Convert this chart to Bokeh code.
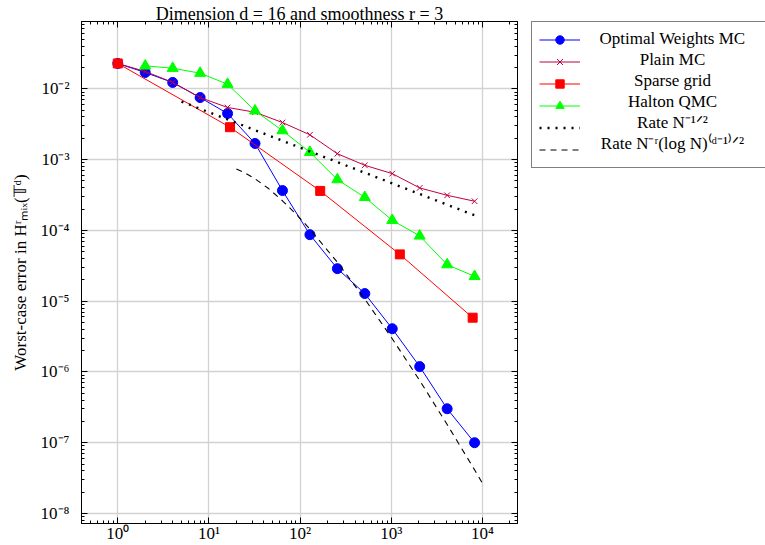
from bokeh.plotting import figure
from bokeh.layouts import row
from bokeh.core.properties import value
from bokeh.models import FixedTicker, CustomJSTickFormatter, LogAxis, Legend, LegendItem, Range1d
from bokeh.embed import file_html
from bokeh.resources import INLINE

# ---------------- data ----------------
n_pow2 = [1, 2, 4, 8, 16, 32, 64, 128, 256, 512, 1024, 2048, 4096, 8192]
err_optimal = [0.0228, 0.0170, 0.0123, 0.00753, 0.00448, 0.00169, 3.65e-4, 8.7e-5,
               2.88e-5, 1.28e-5, 4.08e-6, 1.19e-6, 3.02e-7, 1.0e-7]
err_plain = [0.0228, 0.0176, 0.0123, 0.00753, 0.00545, 0.00467, 0.00334, 0.00224,
             0.00121, 8.31e-4, 6.34e-4, 3.98e-4, 3.13e-4, 2.58e-4]
n_sparse = [1, 17, 166, 1240, 7800]
err_sparse = [0.0228, 0.00287, 3.61e-4, 4.58e-5, 5.84e-6]
n_halton = [2, 4, 8, 16, 32, 64, 128, 256, 512, 1024, 2048, 4096, 8192]
err_halton = [0.0211, 0.01954, 0.01663, 0.01162, 0.00489, 0.00257, 0.00127, 5.22e-4,
              2.93e-4, 1.39e-4, 8.35e-5, 3.28e-5, 2.24e-5]
n_rate_mc = [5, 9000]
err_rate_mc = [6.6e-3, 1.556e-4]
n_rate_opt = [20, 25, 32, 45, 64, 90, 128, 256, 512, 1024, 2048, 4096, 8192, 10000]
err_rate_opt = [7.34e-4, 6.45e-4, 5.35e-4, 3.90e-4, 2.62e-4, 1.71e-4, 1.04e-4, 3.55e-5,
                1.07e-5, 2.95e-6, 7.57e-7, 1.81e-7, 4.14e-8, 2.67e-8]

legend_labels = ["Optimal Weights MC", "Plain MC", "Sparse grid", "Halton QMC",
                 "Rate N\u207b\u00b9\u141f\u00b2",
                 "Rate N\u207b\u02b3(log N)\u207d\u1d48\u207b\u00b9\u207e\u141f\u00b2"]
title_text = "Dimension d = 16 and smoothness r = 3"
ylabel_text = "Worst-case error in H\u02b3\u2098\u1d62\u2093(\U0001D54B\u1d48)"

x_major = [1, 10, 100, 1000, 10000]
x_minor = [k * 10.0 ** e for e in range(-1, 5) for k in range(2, 10)]
y_major = [1e-8, 1e-7, 1e-6, 1e-5, 1e-4, 1e-3, 1e-2]
y_minor = [k * 10.0 ** e for e in range(-9, -1) for k in range(2, 10)]

FONT = "Liberation Serif"
FS = "17px"

p = figure(frame_width=436, frame_height=502, x_axis_type="log", y_axis_type="log",
           x_range=(10 ** -0.398, 10 ** 4.384), y_range=(10 ** -8.141, 10 ** -1.049),
           output_backend="svg", toolbar_location=None,
           min_border_left=81, min_border_right=14, min_border_top=20, min_border_bottom=23)
p.background_fill_color = "white"
p.border_fill_color = "white"
p.outline_line_color = "black"
p.outline_line_width = 1

fmt = CustomJSTickFormatter(code="""
const sup = {'-':'\u207b','0':'\u2070','1':'\u00b9','2':'\u00b2','3':'\u00b3','4':'\u2074',
             '5':'\u2075','6':'\u2076','7':'\u2077','8':'\u2078','9':'\u2079'};
const e = Math.round(Math.log10(tick));
return '10' + String(e).split('').map(c => sup[c]).join('');
""")
blank_fmt = CustomJSTickFormatter(code="return ' ';")

def style_axis(ax, ticker, show_labels):
    ax.ticker = ticker
    ax.major_tick_in = 6
    ax.major_tick_out = 0
    ax.minor_tick_in = 3
    ax.minor_tick_out = 0
    ax.major_tick_line_color = "black"
    ax.minor_tick_line_color = "black"
    ax.axis_line_color = "black"
    if show_labels:
        ax.formatter = fmt
        ax.major_label_text_font = FONT
        ax.major_label_text_font_size = FS
        ax.major_label_text_color = "black"
    else:
        ax.formatter = blank_fmt
        ax.major_label_text_font_size = "1px"
        ax.major_label_text_color = None
        ax.major_label_standoff = 0

xt = FixedTicker(ticks=x_major, minor_ticks=x_minor)
yt = FixedTicker(ticks=y_major, minor_ticks=y_minor)
style_axis(p.xaxis[0], xt, True)
style_axis(p.yaxis[0], yt, True)
p.xaxis[0].major_label_standoff = 0
p.yaxis[0].major_label_standoff = 12
p.yaxis[0].axis_label = ylabel_text
p.yaxis[0].axis_label_text_font = FONT
p.yaxis[0].axis_label_text_font_size = FS
p.yaxis[0].axis_label_text_font_style = "normal"
p.yaxis[0].axis_label_text_color = "black"
p.yaxis[0].axis_label_standoff = 8

top_ax = LogAxis()
right_ax = LogAxis()
style_axis(top_ax, xt, False)
style_axis(right_ax, yt, False)
p.add_layout(top_ax, "above")
p.add_layout(right_ax, "right")

p.xgrid.ticker = xt
p.ygrid.ticker = yt
for g in (p.xgrid[0], p.ygrid[0]):
    g.grid_line_color = "#d2d2d2"
    g.grid_line_width = 1.3
    g.minor_grid_line_color = None

p.title.text = title_text
p.title.align = "center"
p.title.text_font = FONT
p.title.text_font_size = "18px"
p.title.text_font_style = "normal"
p.title.text_color = "black"
p.title.standoff = -4
p.title.offset = 0

BLUE = "#0000ff"
PURPLE = "#bf0040"
RED = "#ff0000"
GREEN = "#00ff00"

STYLES = [
    dict(line=dict(line_color=BLUE, line_width=1),
         marker=dict(marker="circle", size=10, fill_color=BLUE, line_color=BLUE)),
    dict(line=dict(line_color=PURPLE, line_width=1),
         marker=dict(marker="x", size=8, line_color=PURPLE, line_width=1)),
    dict(line=dict(line_color=RED, line_width=1),
         marker=dict(marker="square", size=9, fill_color=RED, line_color=RED)),
    dict(line=dict(line_color=GREEN, line_width=1),
         marker=dict(marker="triangle", size=11, fill_color=GREEN, line_color=GREEN)),
    dict(line=dict(line_color="black", line_width=2.4, line_dash="2 6"), marker=None),
    dict(line=dict(line_color="black", line_width=1.1, line_dash="6 5"), marker=None),
]
SERIES = [(n_pow2, err_optimal), (n_pow2, err_plain), (n_sparse, err_sparse),
          (n_halton, err_halton), (n_rate_mc, err_rate_mc), (n_rate_opt, err_rate_opt)]

for (xs, ys), st in zip(SERIES, STYLES):
    p.line(xs, ys, **st["line"])
    if st["marker"] is not None:
        p.scatter(xs, ys, **st["marker"])

# ---- legend panel: a separate figure to the right of the plot ----
LEG_TOP = 21
PAD = 7
ROW_H = 21
ROW_GAP = 1
q = figure(width=234, height=545, title=None, output_backend="svg", toolbar_location=None,
           x_axis_location=None, y_axis_location=None,
           x_range=Range1d(0, 234), y_range=Range1d(545 - LEG_TOP, 0),
           min_border_left=0, min_border_right=0, min_border_top=LEG_TOP, min_border_bottom=0)
q.outline_line_color = None
q.grid.visible = False
q.background_fill_color = "white"
q.border_fill_color = "white"

# hidden copies of the series: they only provide the legend's sample glyphs
items = []
for (xs, ys), st in zip(SERIES, STYLES):
    rs = [q.line(xs, ys, visible=False, **st["line"])]
    if st["marker"] is not None:
        rs.append(q.scatter(xs, ys, visible=False, **st["marker"]))
    items.append(LegendItem(label=" ", renderers=rs))

legend = Legend(items=items, location="top_left")
legend.border_line_color = "black"
legend.border_line_width = 1
legend.background_fill_alpha = 0
legend.inactive_fill_alpha = 0
legend.padding = PAD
legend.spacing = ROW_GAP
legend.glyph_width = 41
legend.glyph_height = ROW_H
legend.label_height = 1
legend.label_width = 200
legend.label_standoff = 0
legend.label_text_font_size = "1px"
legend.margin = 0
q.add_layout(legend)

row_centers = [PAD + ROW_H / 2 + i * (ROW_H + ROW_GAP) for i in range(len(legend_labels))]
q.text(x=[141] * len(legend_labels), y=row_centers, text=legend_labels,
       text_align="center", text_baseline="middle",
       text_font=value(FONT), text_font_size=value(FS), text_color="black")

layout = row(p, q, spacing=0)

with open("out.html", "w", encoding="utf-8") as f:
    f.write(file_html(layout, INLINE))
